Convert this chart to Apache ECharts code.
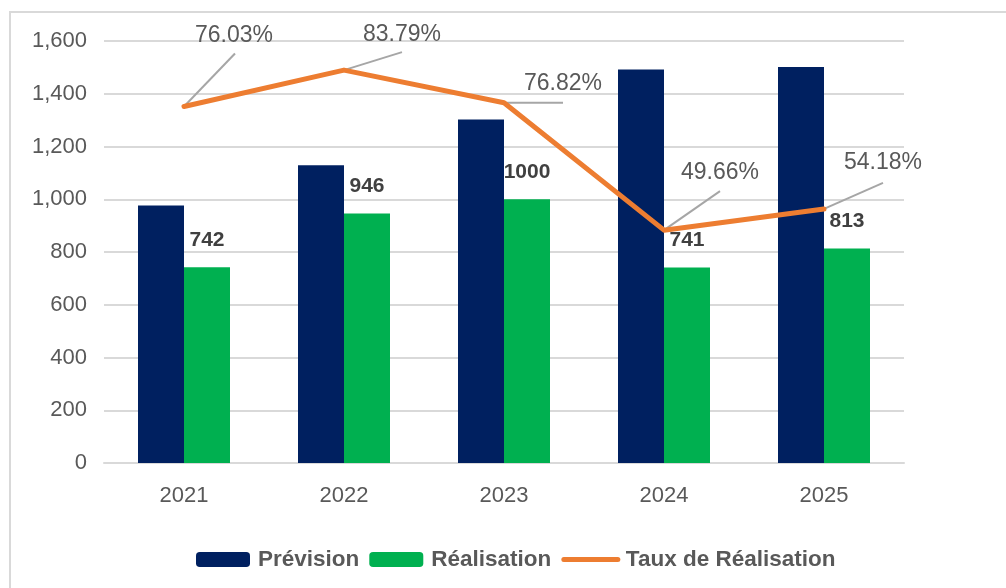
<!DOCTYPE html>
<html>
<head>
<meta charset="utf-8">
<script src="https://cdn.jsdelivr.net/npm/echarts@6/dist/echarts.min.js"></script>
<style>
  html, body { margin: 0; padding: 0; background: #fff; }
  #chart { width: 1006px; height: 588px; }
</style>
</head>
<body>
<div id="chart"></div>
<script>
// données
const years = ['2021', '2022', '2023', '2024', '2025'];
const prevision = [976, 1129, 1302, 1492, 1501];
const realisation = [742, 946, 1000, 741, 813];
const tauxRealisation = [76.03, 83.79, 76.82, 49.66, 54.18];

// position des étiquettes % et fin des traits de rappel (px, relatif au point)
const tauxLabelOffset = [[50, -71], [58, -35], [59, -19], [56, -57], [59, -46]];
const tauxLeaderEnd = [[51, -53], [58, -18], [59, 0], [56, -39], [59, -26]];

const grey = '#595959';
const font = 'Arial, "Liberation Sans", sans-serif';

let myChart = echarts.init(document.getElementById('chart'));

let options = {
  animation: false,
  graphic: [
    {
      type: 'rect',
      shape: { x: 10, y: 12, width: 1100, height: 700 },
      style: { fill: 'none', stroke: '#d9d9d9', lineWidth: 2 },
      silent: true
    }
  ],
  grid: {
    left: 104,
    right: 102,
    top: 41,
    bottom: 125
  },
  legend: {
    left: 191,
    top: 543,
    itemWidth: 54,
    itemHeight: 15,
    itemGap: 10,
    lineStyle: { width: 5, cap: 'round' },
    textStyle: {
      color: grey,
      fontSize: 22.5,
      fontWeight: 'bold',
      fontFamily: font,
      padding: [0, 0, 0, 3]
    },
    data: [
      'Prévision',
      'Réalisation',
      { name: 'Taux de Réalisation', itemStyle: { opacity: 0 } }
    ]
  },
  xAxis: {
    type: 'category',
    data: years,
    axisLine: { lineStyle: { color: '#d9d9d9', width: 2 } },
    axisTick: { show: false },
    axisLabel: {
      color: grey,
      fontSize: 22,
      fontFamily: font,
      margin: 22
    }
  },
  yAxis: [
    {
      type: 'value',
      min: 0,
      max: 1600,
      interval: 200,
      axisLine: { show: false },
      axisTick: { show: false },
      splitLine: { lineStyle: { color: '#d9d9d9', width: 2 } },
      axisLabel: {
        color: grey,
        fontSize: 22,
        fontFamily: font,
        margin: 17,
        formatter: v => v.toLocaleString('en-US')
      }
    },
    {
      type: 'value',
      min: 0,
      max: 90,
      show: false,
      splitLine: { show: false }
    }
  ],
  series: [
    {
      name: 'Prévision',
      type: 'bar',
      data: prevision,
      barGap: '0%',
      barCategoryGap: '42.5%',
      itemStyle: { color: '#002060' }
    },
    {
      name: 'Réalisation',
      type: 'bar',
      data: realisation,
      itemStyle: { color: '#00b050' },
      label: {
        show: true,
        position: 'top',
        distance: 17,
        color: '#404040',
        fontSize: 21,
        fontWeight: 'bold',
        fontFamily: font
      }
    },
    {
      name: 'Taux de Réalisation',
      type: 'line',
      yAxisIndex: 1,
      data: tauxRealisation,
      z: 5,
      symbol: 'none',
      lineStyle: { color: '#ed7d31', width: 5, cap: 'round', join: 'round' },
      itemStyle: { color: '#ed7d31' }
    },
    {
      // étiquettes % avec trait de rappel
      name: 'tauxLabels',
      type: 'custom',
      yAxisIndex: 1,
      z: 4,
      data: tauxRealisation.map((v, i) => [i, v]),
      renderItem: function (params, api) {
        const i = params.dataIndex;
        const p = api.coord([api.value(0), api.value(1)]);
        const lab = tauxLabelOffset[i];
        const end = tauxLeaderEnd[i];
        return {
          type: 'group',
          children: [
            {
              type: 'line',
              shape: { x1: p[0], y1: p[1], x2: p[0] + end[0], y2: p[1] + end[1] },
              style: { stroke: '#a6a6a6', lineWidth: 2 }
            },
            {
              type: 'text',
              x: p[0] + lab[0],
              y: p[1] + lab[1],
              style: {
                text: api.value(1).toFixed(2) + '%',
                fill: grey,
                fontSize: 23,
                fontFamily: font,
                align: 'center',
                verticalAlign: 'middle'
              }
            }
          ]
        };
      }
    }
  ]
};

myChart.setOption(options);
</script>
</body>
</html>
